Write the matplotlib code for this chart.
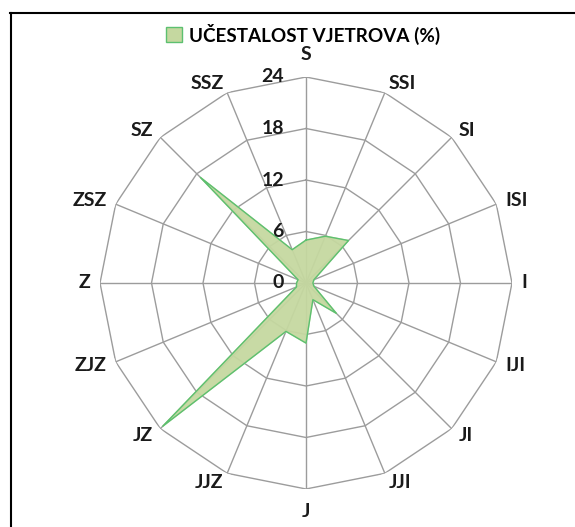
import numpy as np
import matplotlib.pyplot as plt
from matplotlib.lines import Line2D
from matplotlib.patches import Patch

# Wind directions (clockwise from north) and frequency in %
directions = ['S', 'SSI', 'SI', 'ISI', 'I', 'IJI', 'JI', 'JJI',
              'J', 'JJZ', 'JZ', 'ZJZ', 'Z', 'ZSZ', 'SZ', 'SSZ']
frequency = [5.0, 5.9, 7.0, 1.0, 0.8, 1.0, 5.0, 2.1,
             7.0, 6.1, 23.6, 1.2, 1.1, 1.0, 17.4, 4.2]
radial_ticks = [0, 6, 12, 18, 24]
legend_label = 'UČESTALOST VJETROVA (%)'

plt.rcParams['font.family'] = ['Lato', 'DejaVu Sans']
plt.rcParams['font.weight'] = 'bold'

fig = plt.figure(figsize=(5.75, 5.27), dpi=100)
ax = fig.add_axes([100 / 575, 38 / 527, 412 / 575, 412 / 527], projection='polar')
ax.set_theta_zero_location('N')
ax.set_theta_direction(-1)
ax.set_ylim(0, 24)

theta = np.linspace(0, 2 * np.pi, len(directions), endpoint=False)
theta_closed = np.append(theta, theta[0])

# polygon grid instead of circles
ax.grid(False)
ax.spines['polar'].set_visible(False)
ax.set_xticks([])
ax.set_yticks([])
for r in radial_ticks[1:]:
    ax.plot(theta_closed, [r] * len(theta_closed), color='#9c9c9c', lw=1.0, zorder=1)
for t in theta:
    ax.plot([t, t], [0, 24], color='#9c9c9c', lw=1.0, zorder=1)

# data
vals = np.append(frequency, frequency[0])
ax.fill(theta_closed, vals, color='#c5d8a0', alpha=0.95, zorder=2)
ax.plot(theta_closed, vals, color='#5cc070', lw=1.0, zorder=3)

# direction labels (aligned like Excel: outside edge toward the axis end)
for t, name in zip(theta, directions):
    s = np.sin(t)
    if abs(s) < 0.1:
        ax.text(t, 26.6, name, ha='center', va='center', fontsize=14,
                fontweight='bold', color='#1a1a1a')
    else:
        ax.text(t, 25.15, name, ha='left' if s > 0 else 'right', va='center',
                fontsize=14, fontweight='bold', color='#1a1a1a')

# radial tick labels
for r in radial_ticks:
    ax.annotate(str(r), xy=(0, r), xytext=(-16, 0), textcoords='offset points',
                ha='right', va='center', fontsize=14, fontweight='bold',
                color='#1a1a1a')

handle = Patch(facecolor='#c5d8a0', edgecolor='#5cc070', lw=1.0)
fig.legend([handle], [legend_label], loc='center', bbox_to_anchor=(303 / 575, 1 - 34 / 527),
           frameon=False, handlelength=0.85, handleheight=0.85, borderpad=0.1,
           handletextpad=0.35, prop={'weight': 'bold', 'size': 13.6})

# chart frame (top and left edges visible)
fig.add_artist(Line2D([10 / 575, 1.0], [1 - 13 / 527, 1 - 13 / 527], color='black', lw=1.5,
                      transform=fig.transFigure))
fig.add_artist(Line2D([11 / 575, 11 / 575], [0, 1 - 13 / 527], color='black', lw=1.5,
                      transform=fig.transFigure))

fig.savefig('out.png', dpi=100)
